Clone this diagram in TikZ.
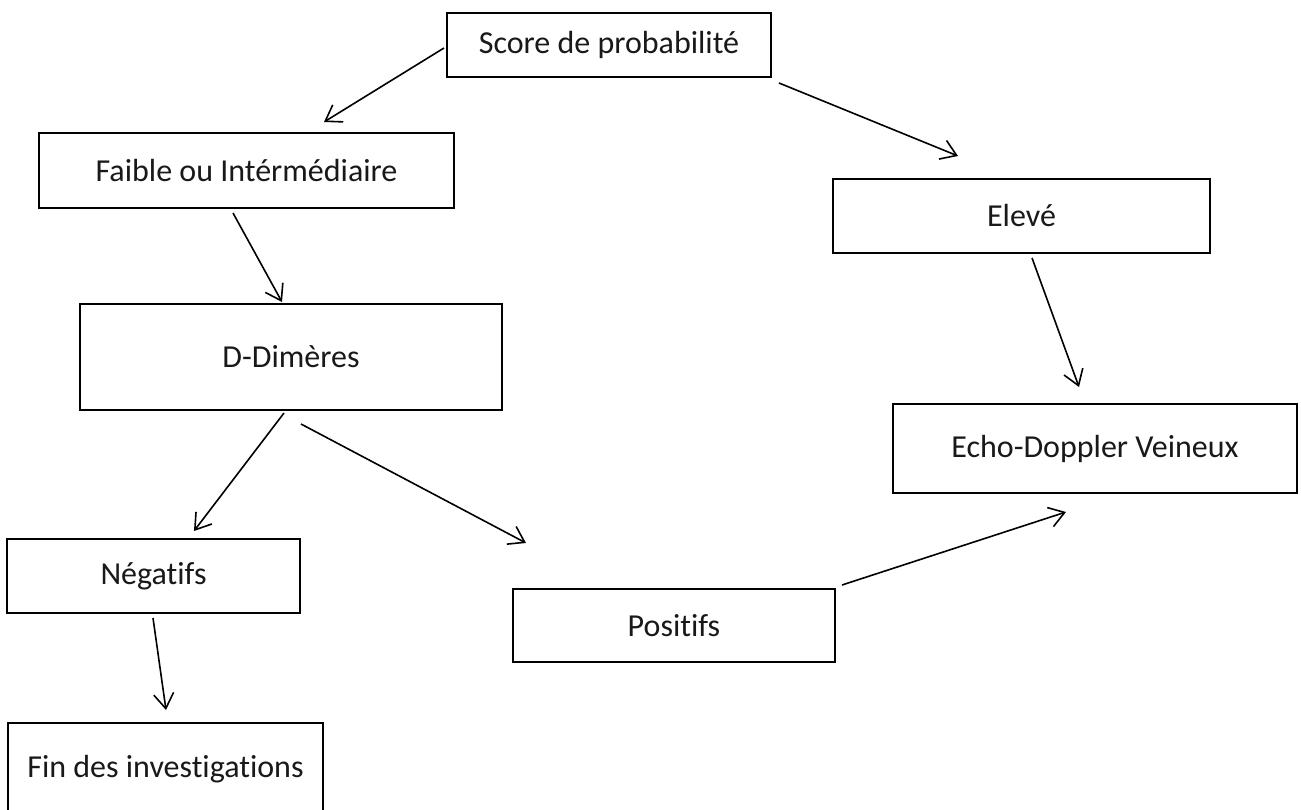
\documentclass[tikz,border=0pt]{standalone}
\usepackage{fontspec}
\setmainfont{Carlito}[Ligatures=NoCommon]
\usetikzlibrary{arrows.meta}
\begin{document}
\begin{tikzpicture}[x=1pt,y=-1pt,
  box/.style={draw=black,line width=2pt,fill=white,inner sep=0pt,
    font=\fontsize{32}{36}\selectfont,text=black!90},
  conn/.style={line width=1.6pt,-{Straight Barb[length=15pt,width=20pt]}}]
\clip (0,0) rectangle (1301,810);
\fill[white] (0,0) rectangle (1301,810);
\node[box,minimum width=324pt,minimum height=64pt] (score) at (609,45) {Score de probabilité};
\node[box,minimum width=415pt,minimum height=75pt] (faible) at (246.5,170.5) {Faible ou Intérmédiaire};
\node[box,minimum width=377pt,minimum height=74pt] (eleve) at (1021.5,216) {Elevé};
\node[box,minimum width=422pt,minimum height=106pt] (ddim) at (291,357) {D-Dimères};
\node[box,minimum width=404pt,minimum height=89pt] (echo) at (1095,448.5) {Echo-Doppler Veineux};
\node[box,minimum width=293pt,minimum height=74pt] (neg) at (153.5,576) {Négatifs};
\node[box,minimum width=322pt,minimum height=73pt] (pos) at (674,625.5) {Positifs};
\node[box,minimum width=315pt,minimum height=92pt] (fin) at (165.5,769) {Fin des investigations};

\draw[conn] ([shift={(-2,3)}]score.west) -- ([shift={(77.5,-10)}]faible.north);
\draw[conn] ([shift={(7,5)}]score.south east) -- ([shift={(-63.5,-22)}]eleve.north);
\draw[conn] ([shift={(-13.5,4)}]faible.south) -- ([shift={(-9,-1)}]ddim.north);
\draw[conn] ([shift={(10.5,4)}]eleve.south) -- ([shift={(-16,-16)}]echo.north);
\draw[conn] ([shift={(-7,2)}]ddim.south) -- ([shift={(40.5,-7)}]neg.north);
\draw[conn] ([shift={(10,13)}]ddim.south) -- ([shift={(14,-45)}]pos.north west);
\draw[conn] ([shift={(-0.5,4)}]neg.south) -- ([shift={(0.5,-12)}]fin.north);
\draw[conn] ([shift={(6,-3)}]pos.north east) -- ([shift={(-29,18)}]echo.south);
\end{tikzpicture}
\end{document}
